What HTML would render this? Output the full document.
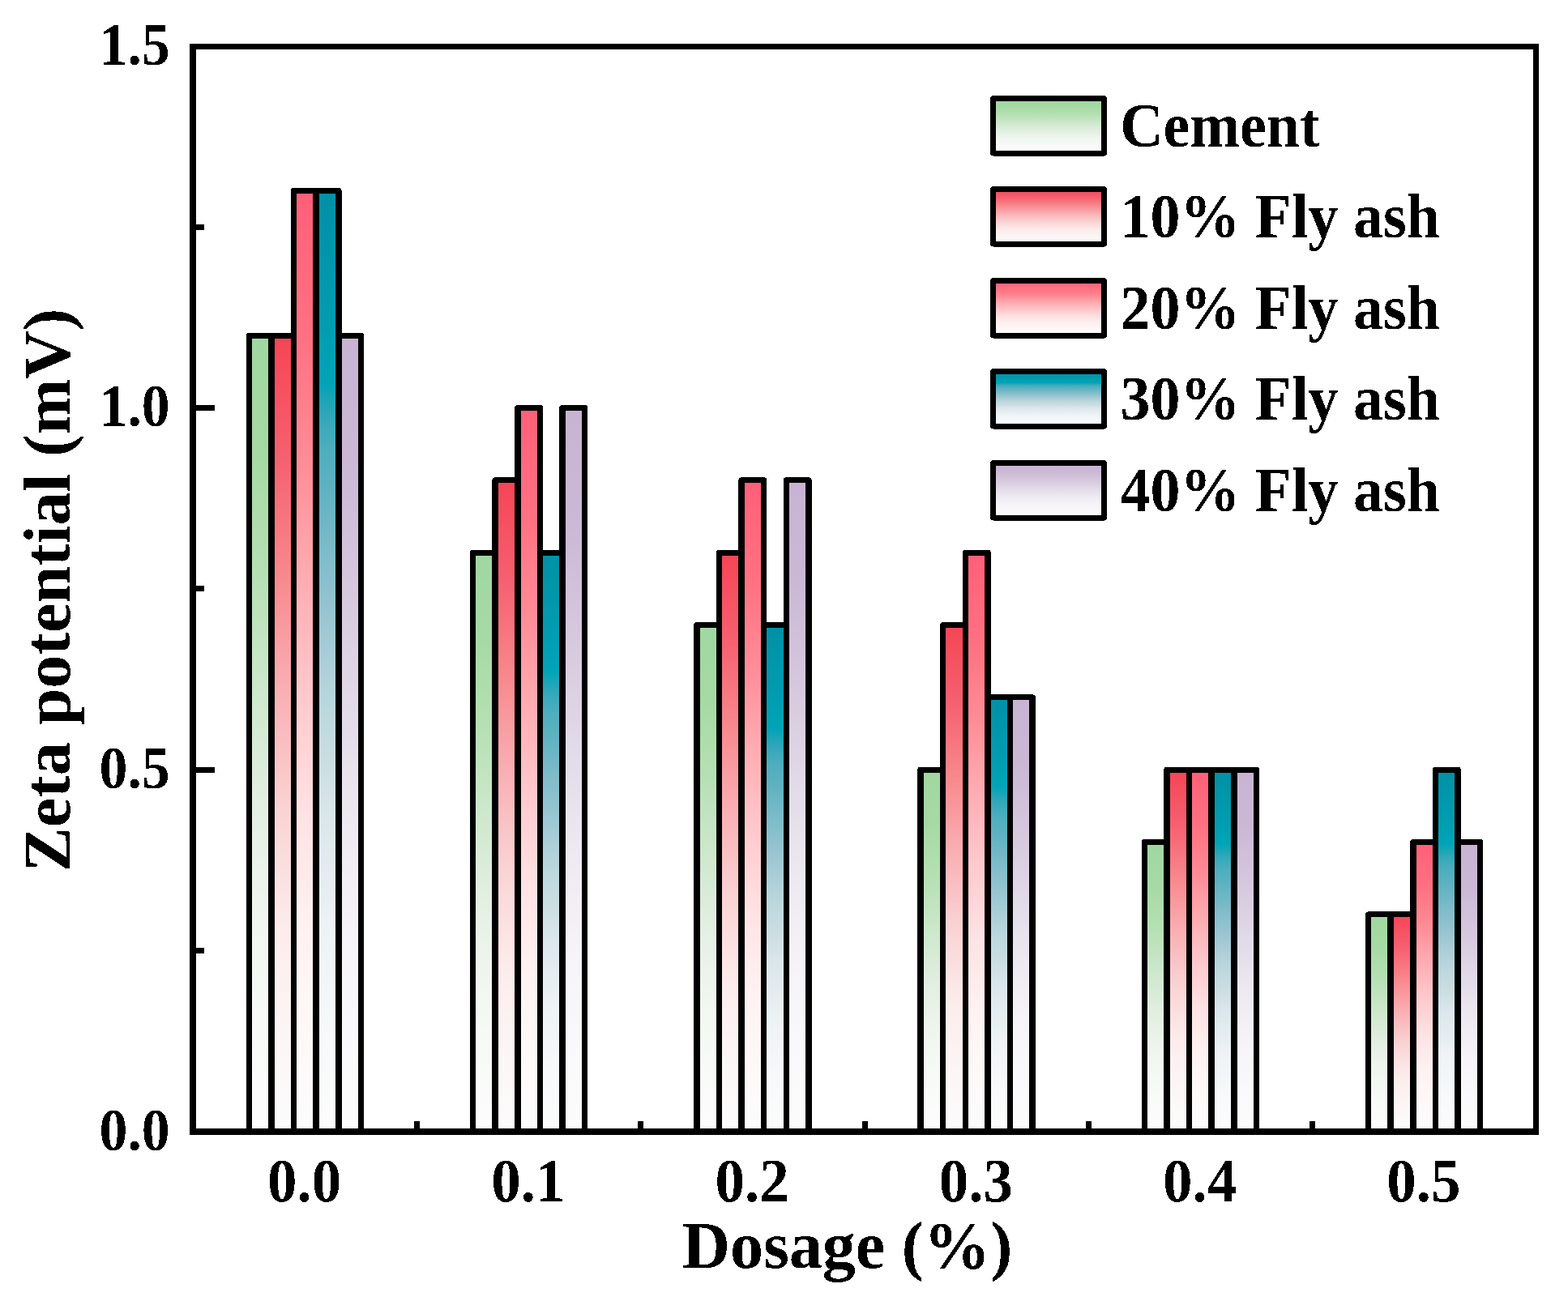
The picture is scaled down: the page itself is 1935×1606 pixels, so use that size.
<!DOCTYPE html><html><head><meta charset="utf-8"><title>Zeta potential vs dosage</title><style>html,body{margin:0;padding:0;background:#fff;overflow:hidden;}svg{display:block;}text{font-family:"Liberation Serif","Times New Roman",serif;font-weight:bold;fill:#000;}</style></head><body>
<svg width="1935" height="1606" viewBox="0 0 1935 1606">
<defs><filter id="al" x="0" y="0" width="1935" height="1606" filterUnits="userSpaceOnUse"><feComponentTransfer><feFuncA type="discrete" tableValues="0 1"/></feComponentTransfer></filter>
<linearGradient id="g0" x1="0" y1="0" x2="0" y2="1"><stop offset="0" stop-color="#A0D7A0"/><stop offset="0.154" stop-color="#A6DAA4"/><stop offset="0.296" stop-color="#B5E0B3"/><stop offset="0.449" stop-color="#CDE8CC"/><stop offset="0.601" stop-color="#E4EFE3"/><stop offset="0.754" stop-color="#F2F7F1"/><stop offset="0.9" stop-color="#F9FBF9"/><stop offset="1" stop-color="#FCFCFC"/></linearGradient>
<linearGradient id="g1" x1="0" y1="0" x2="0" y2="1"><stop offset="0" stop-color="#F54555"/><stop offset="0.154" stop-color="#F66070"/><stop offset="0.296" stop-color="#F8878C"/><stop offset="0.449" stop-color="#F9B0B4"/><stop offset="0.601" stop-color="#FAD4D5"/><stop offset="0.754" stop-color="#FCEDED"/><stop offset="0.9" stop-color="#FCF7F7"/><stop offset="1" stop-color="#FCFCFC"/></linearGradient>
<linearGradient id="g2" x1="0" y1="0" x2="0" y2="1"><stop offset="0" stop-color="#FF5F78"/><stop offset="0.16" stop-color="#FF7282"/><stop offset="0.284" stop-color="#FF8B96"/><stop offset="0.404" stop-color="#FFAAB0"/><stop offset="0.533" stop-color="#FFC8CC"/><stop offset="0.663" stop-color="#FFE2E4"/><stop offset="0.791" stop-color="#FEF2F3"/><stop offset="0.9" stop-color="#FDF9F9"/><stop offset="1" stop-color="#FCFCFC"/></linearGradient>
<linearGradient id="g3" x1="0" y1="0" x2="0" y2="1"><stop offset="0" stop-color="#0090A5"/><stop offset="0.137" stop-color="#009CB0"/><stop offset="0.205" stop-color="#00A4B6"/><stop offset="0.231" stop-color="#26A6B8"/><stop offset="0.252" stop-color="#3CAABB"/><stop offset="0.278" stop-color="#50AEBE"/><stop offset="0.305" stop-color="#5AB0C0"/><stop offset="0.389" stop-color="#80BCCA"/><stop offset="0.445" stop-color="#96C4D0"/><stop offset="0.5" stop-color="#ACCED8"/><stop offset="0.556" stop-color="#BED8DE"/><stop offset="0.612" stop-color="#CCDEE2"/><stop offset="0.663" stop-color="#DAE6EC"/><stop offset="0.791" stop-color="#EEF3F6"/><stop offset="0.9" stop-color="#F7F9FA"/><stop offset="1" stop-color="#FCFCFC"/></linearGradient>
<linearGradient id="g4" x1="0" y1="0" x2="0" y2="1"><stop offset="0" stop-color="#C8B4D2"/><stop offset="0.154" stop-color="#CAB8D5"/><stop offset="0.296" stop-color="#D4C6DC"/><stop offset="0.449" stop-color="#E0D8E6"/><stop offset="0.601" stop-color="#ECE8F0"/><stop offset="0.754" stop-color="#F6F4F8"/><stop offset="0.9" stop-color="#FAF9FB"/><stop offset="1" stop-color="#FCFCFC"/></linearGradient>
</defs>
<rect width="1935" height="1606" fill="#fff"/>
<g transform="scale(1,0.933333)" stroke="#000" stroke-width="7.5" stroke-linejoin="round" shape-rendering="crispEdges">
<rect x="307.31" y="443.73" width="27.625" height="1053.05" fill="url(#g0)"/>
<rect x="334.94" y="443.73" width="27.625" height="1053.05" fill="url(#g1)"/>
<rect x="362.56" y="252.27" width="27.625" height="1244.52" fill="url(#g2)"/>
<rect x="390.19" y="252.27" width="27.625" height="1244.52" fill="url(#g3)"/>
<rect x="417.81" y="443.73" width="27.625" height="1053.05" fill="url(#g4)"/>
<rect x="583.56" y="730.93" width="27.625" height="765.86" fill="url(#g0)"/>
<rect x="611.19" y="635.20" width="27.625" height="861.59" fill="url(#g1)"/>
<rect x="638.81" y="539.46" width="27.625" height="957.32" fill="url(#g2)"/>
<rect x="666.44" y="730.93" width="27.625" height="765.86" fill="url(#g3)"/>
<rect x="694.06" y="539.46" width="27.625" height="957.32" fill="url(#g4)"/>
<rect x="859.81" y="826.66" width="27.625" height="670.12" fill="url(#g0)"/>
<rect x="887.44" y="730.93" width="27.625" height="765.86" fill="url(#g1)"/>
<rect x="915.06" y="635.20" width="27.625" height="861.59" fill="url(#g2)"/>
<rect x="942.69" y="826.66" width="27.625" height="670.12" fill="url(#g3)"/>
<rect x="970.31" y="635.20" width="27.625" height="861.59" fill="url(#g4)"/>
<rect x="1136.06" y="1018.12" width="27.625" height="478.66" fill="url(#g0)"/>
<rect x="1163.69" y="826.66" width="27.625" height="670.12" fill="url(#g1)"/>
<rect x="1191.31" y="730.93" width="27.625" height="765.86" fill="url(#g2)"/>
<rect x="1218.94" y="922.39" width="27.625" height="574.39" fill="url(#g3)"/>
<rect x="1246.56" y="922.39" width="27.625" height="574.39" fill="url(#g4)"/>
<rect x="1412.31" y="1113.86" width="27.625" height="382.93" fill="url(#g0)"/>
<rect x="1439.94" y="1018.12" width="27.625" height="478.66" fill="url(#g1)"/>
<rect x="1467.56" y="1018.12" width="27.625" height="478.66" fill="url(#g2)"/>
<rect x="1495.19" y="1018.12" width="27.625" height="478.66" fill="url(#g3)"/>
<rect x="1522.81" y="1018.12" width="27.625" height="478.66" fill="url(#g4)"/>
<rect x="1688.56" y="1209.59" width="27.625" height="287.20" fill="url(#g0)"/>
<rect x="1716.19" y="1209.59" width="27.625" height="287.20" fill="url(#g1)"/>
<rect x="1743.81" y="1113.86" width="27.625" height="382.93" fill="url(#g2)"/>
<rect x="1771.44" y="1018.12" width="27.625" height="478.66" fill="url(#g3)"/>
<rect x="1799.06" y="1113.86" width="27.625" height="382.93" fill="url(#g4)"/>
</g>
<g fill="#000" shape-rendering="crispEdges">
<rect x="234" y="54" width="8" height="1347"/>
<rect x="1892" y="54" width="7" height="1347"/>
<rect x="234" y="54" width="1665" height="7"/>
<rect x="234" y="1393" width="1665" height="8"/>
<rect x="242" y="946.75" width="23" height="7"/>
<rect x="242" y="500.00" width="23" height="7"/>
<rect x="242" y="1170.12" width="10" height="7"/>
<rect x="242" y="723.38" width="10" height="7"/>
<rect x="242" y="276.62" width="10" height="7"/>
<rect x="511.00" y="1384" width="7" height="9"/>
<rect x="787.25" y="1384" width="7" height="9"/>
<rect x="1063.50" y="1384" width="7" height="9"/>
<rect x="1339.75" y="1384" width="7" height="9"/>
<rect x="1616.00" y="1384" width="7" height="9"/>
</g>
<rect x="1225.5" y="121.5" width="137" height="67.5" fill="url(#g0)" stroke="#000" stroke-width="7" stroke-linejoin="round" shape-rendering="crispEdges"/>
<rect x="1225.5" y="233.5" width="137" height="67.5" fill="url(#g1)" stroke="#000" stroke-width="7" stroke-linejoin="round" shape-rendering="crispEdges"/>
<rect x="1225.5" y="346.5" width="137" height="67.5" fill="url(#g2)" stroke="#000" stroke-width="7" stroke-linejoin="round" shape-rendering="crispEdges"/>
<rect x="1225.5" y="458.5" width="137" height="67.5" fill="url(#g3)" stroke="#000" stroke-width="7" stroke-linejoin="round" shape-rendering="crispEdges"/>
<rect x="1225.5" y="571.5" width="137" height="67.5" fill="url(#g4)" stroke="#000" stroke-width="7" stroke-linejoin="round" shape-rendering="crispEdges"/>
<g filter="url(#al)">
<g font-size="73" text-anchor="end">
<text transform="translate(209.7,1420.0) scale(0.955,1)">0.0</text>
<text transform="translate(209.7,973.2) scale(0.955,1)">0.5</text>
<text transform="translate(209.7,525.5) scale(0.955,1)">1.0</text>
<text transform="translate(209.7,79.8) scale(0.955,1)">1.5</text>
</g>
<g font-size="76.5" text-anchor="middle">
<text transform="translate(375.57,1483.4) scale(0.952,1)">0.0</text>
<text transform="translate(651.83,1483.4) scale(0.952,1)">0.1</text>
<text transform="translate(928.08,1483.4) scale(0.952,1)">0.2</text>
<text transform="translate(1204.33,1483.4) scale(0.952,1)">0.3</text>
<text transform="translate(1480.58,1483.4) scale(0.952,1)">0.4</text>
<text transform="translate(1756.83,1483.4) scale(0.952,1)">0.5</text>
</g>
<text x="1045.5" y="1565" font-size="82" text-anchor="middle">Dosage (%)</text>
<text transform="translate(86,728.5) rotate(-90)" font-size="82.4" text-anchor="middle">Zeta potential (mV)</text>
<g font-size="77.5">
<text transform="translate(1382.2,181.3) scale(0.954,1)">Cement</text>
<text transform="translate(1382.5,293.3) scale(0.954,1)">10% Fly ash</text>
<text transform="translate(1382.5,406.3) scale(0.954,1)">20% Fly ash</text>
<text transform="translate(1382.5,518.3) scale(0.954,1)">30% Fly ash</text>
<text transform="translate(1382.5,631.3) scale(0.954,1)">40% Fly ash</text>
</g>
</g>
</svg></body></html>
